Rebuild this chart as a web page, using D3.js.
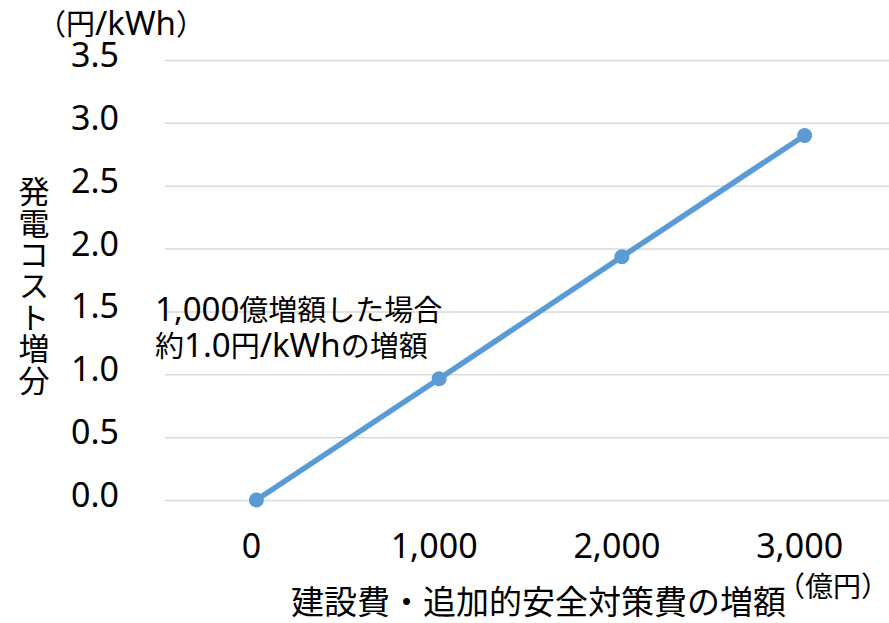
<!DOCTYPE html>
<html>
<head>
<meta charset="utf-8">
<script src="https://cdn.jsdelivr.net/npm/d3@7"></script>
<style>
  html, body { margin: 0; padding: 0; background: #fff; }
  svg { display: block; }
</style>
</head>
<body>
<div id="chart"></div>
<script>
// ---- data ----
const categories = ["0", "1,000", "2,000", "3,000"];
const values = [0, 0.965, 1.935, 2.9];
const yTicks = [0, 0.5, 1.0, 1.5, 2.0, 2.5, 3.0, 3.5];
const yUnit = "（円/kWh）";
const xUnit = "（億円）";
const yTitle = "発電コスト増分";
const xTitle = "建設費・追加的安全対策費の増額";
const annotationLines = ["1,000億増額した場合", "約1.0円/kWhの増額"];

// ---- layout ----
const W = 889, H = 623;
const plot = { left: 165, right: 896, top: 60, bottom: 500 };
const LATIN = "'Noto Sans', 'DejaVu Sans', sans-serif";
const CJK = "'Noto Sans CJK JP', sans-serif";
const LINE_COLOR = "#5B9BD5";

const svg = d3.select("#chart").append("svg")
  .attr("width", W).attr("height", H);

const x = d3.scaleBand().domain(categories).range([plot.left, plot.right]).padding(0);
const y = d3.scaleLinear().domain([0, 3.5]).range([plot.bottom, plot.top]);

// helper: write text with mixed latin / CJK runs
const cjkRe = /[\u3000-\u30ff\u3400-\u9fff\uff00-\uffef]+|[^\u3000-\u30ff\u3400-\u9fff\uff00-\uffef]+/g;
function mixed(sel, str, latinSize, cjkSize) {
  const runs = str.match(cjkRe) || [];
  runs.forEach(r => {
    const isCjk = /[\u3000-\u30ff\u3400-\u9fff\uff00-\uffef]/.test(r);
    sel.append("tspan")
      .attr("font-family", isCjk ? CJK : LATIN)
      .attr("font-size", isCjk ? cjkSize : latinSize)
      .text(r);
  });
  return sel;
}

// gridlines
const yAxis = d3.axisLeft(y).tickValues(yTicks)
  .tickSize(-(plot.right - plot.left)).tickFormat(d3.format(".1f"));
const gy = svg.append("g").attr("transform", `translate(${plot.left},0)`).call(yAxis);
gy.select(".domain").remove();
gy.selectAll(".tick line").attr("stroke", "#d9d9d9").attr("stroke-width", 1.5);
gy.selectAll(".tick text")
  .attr("x", 119 - plot.left)
  .attr("dy", null)
  .attr("y", 6.5)
  .attr("text-anchor", "end")
  .attr("font-family", LATIN)
  .attr("font-size", 34)
  .attr("fill", "#000");

// x axis labels
const xAxis = d3.axisBottom(x).tickSize(0);
const gx = svg.append("g").attr("transform", `translate(0,${plot.bottom})`).call(xAxis);
gx.select(".domain").remove();
gx.selectAll(".tick text")
  .attr("x", -5)
  .attr("dy", null)
  .attr("y", 57.5)
  .attr("font-family", LATIN)
  .attr("font-size", 34)
  .attr("fill", "#000");

// line + markers
const cx = (d, i) => x(categories[i]) + x.bandwidth() / 2;
const line = d3.line().x((d, i) => cx(d, i)).y(d => y(d));
svg.append("path").datum(values)
  .attr("d", line)
  .attr("fill", "none")
  .attr("stroke", LINE_COLOR)
  .attr("stroke-width", 5.5)
  .attr("stroke-linejoin", "round");
svg.selectAll("circle.pt").data(values).enter().append("circle")
  .attr("class", "pt")
  .attr("cx", (d, i) => cx(d, i))
  .attr("cy", d => y(d))
  .attr("r", 7.5)
  .attr("fill", LINE_COLOR);

// y unit
mixed(svg.append("text").attr("x", 37).attr("y", 35).attr("fill", "#000"), yUnit, 33, 29);

// x unit
mixed(svg.append("text").attr("x", 777).attr("y", 597).attr("fill", "#000"), xUnit, 33, 28);

// y title (vertical upright)
svg.append("text")
  .attr("x", 34)
  .attr("y", 176)
  .attr("font-family", CJK)
  .attr("font-size", 31)
  .attr("letter-spacing", 0.4)
  .style("writing-mode", "vertical-rl")
  .style("text-orientation", "upright")
  .attr("fill", "#000")
  .text(yTitle);

// x title
svg.append("text")
  .attr("x", 538.5).attr("y", 614)
  .attr("text-anchor", "middle")
  .attr("font-family", CJK)
  .attr("font-size", 33)
  .attr("fill", "#000")
  .text(xTitle);

// annotation
annotationLines.forEach((s, i) => {
  mixed(svg.append("text").attr("x", 155).attr("y", 321 + i * 36).attr("fill", "#000"), s, 33, 29);
});
</script>
</body>
</html>
